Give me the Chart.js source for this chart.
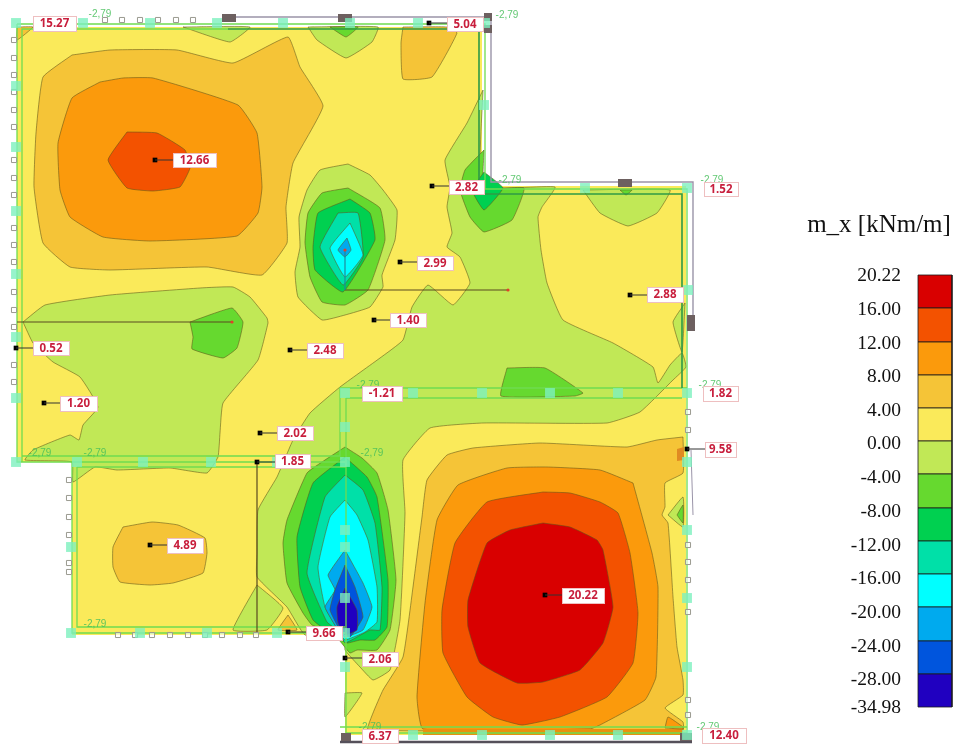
<!DOCTYPE html>
<html>
<head>
<meta charset="utf-8">
<title>m_x</title>
<script src="https://cdn.jsdelivr.net/npm/chart.js@4"></script>
<style>
  html, body { margin: 0; padding: 0; background: #fff; }
  canvas { display: block; filter: blur(0.4px); }
</style>
</head>
<body>
<canvas id="plate" width="957" height="744"></canvas>
<script>
// colour classes, from the scale on the right (top to bottom)
const scaleTicks = ['20.22','16.00','12.00','8.00','4.00','0.00','-4.00','-8.00','-12.00','-16.00','-20.00','-24.00','-28.00','-34.98'];
const scaleColors = ['#d90000','#f35200','#fb9a0c','#f5c437','#faea5a','#c1e856','#66d92f','#00d050','#00e0a8','#00ffff','#00aaee','#0055dd','#2000c0'];
const scaleEdges = [275,308,342,375,408,441,474,508,541,574,607,641,674,707];
const scaleLabelY = [276,310,344,377,411,444,478,512,546,579,613,647,680,708];

// contour outlines, in plot units
const slab = [[17,27],[482,27],[482,186],[686,186],[686,735],[345,735],[345,635],[72,635],[72,462],[17,462]];

const centerBand = [[483,90],[482,186],[555,187],[542,207],[538,217],[541,250],[547,283],[563,320],[613,343],[653,367],[658,383],[670,365],[682,353],[686,367],[673,380],[640,412],[607,423],[483,423],[430,428],[403,460],[405,513],[400,620],[390,670],[373,680],[360,667],[345,650],[345,635],[305,635],[287,607],[257,577],[257,553],[258,510],[277,477],[293,440],[310,413],[340,387],[380,358],[403,340],[412,307],[428,285],[453,305],[470,283],[460,257],[447,247],[452,233],[447,207],[450,187],[445,160],[467,123]];
const leftBand = [[23,322],[45,305],[110,295],[200,288],[233,287],[250,297],[267,318],[268,323],[258,360],[223,403],[220,433],[218,457],[207,473],[170,468],[117,470],[95,467],[73,482],[72,462],[25,460],[33,450],[70,435],[79,440],[83,425],[98,407],[80,377],[53,362],[33,343]];
const leftPatch = [[190,322],[232,308],[243,322],[237,348],[223,358],[192,349],[193,337]];

const upperA = [[348,164],[320,170],[307,190],[299,217],[300,247],[295,272],[298,297],[322,320],[345,315],[370,307],[383,287],[382,275],[395,240],[397,210],[383,190],[370,175]];
const upperB = [[348,188],[322,193],[308,213],[305,243],[310,277],[322,302],[345,305],[368,290],[385,240],[380,208]];
const upperC = [[350,199],[318,213],[313,247],[315,270],[343,292],[375,240],[370,213]];
const upperD = [[338,213],[320,247],[343,285],[363,257],[358,213]];
const upperE = [[350,223],[330,248],[345,277],[363,255]];
const upperF = [[347,238],[338,250],[345,257],[351,250]];

const notchA = [[484,150],[465,170],[460,190],[470,217],[484,232],[512,220],[524,188],[484,188]];
const notchB = [[484,172],[472,190],[484,210],[503,188]];

const topBlob1 = [[183,27],[230,42],[250,27]];
const topBlob2 = [[308,27],[317,40],[346,58],[372,42],[378,27]];
const topBlob2Core = [[330,27],[346,37],[358,27]];
const topWarm = [[403,27],[401,43],[403,79],[432,77],[457,33],[447,27]];

const rightBlob = [[583,190],[600,213],[628,226],[657,213],[670,190]];
const rightBlobCore = [[620,190],[626,195],[632,190]];
const edgePatch = [[685,303],[673,322],[682,352]];
const seamPatch = [[507,368],[545,368],[583,393],[575,396],[501,396]];

const warmA1 = [[72,55],[43,77],[36,133],[34,187],[43,243],[70,267],[110,270],[207,267],[262,275],[287,243],[286,207],[293,163],[323,106],[300,67],[288,37],[233,63],[177,50],[110,50]];
const warmA2 = [[100,82],[72,98],[58,143],[60,190],[70,217],[103,237],[150,241],[237,236],[258,213],[262,187],[257,133],[238,105],[153,78],[123,78]];
const warmA3 = [[127,132],[108,160],[127,188],[153,191],[180,187],[190,168],[185,150],[157,133]];
const cornerWarm = [[17,27],[17,40],[33,27]];

const warmB = [[123,527],[152,522],[178,525],[205,538],[207,553],[203,573],[173,583],[150,585],[120,582],[113,567],[113,547]];
const warmBTip = [[288,615],[278,630],[297,630]];
const coolWedge = [[257,585],[233,630],[267,630],[283,608]];
const coolFoot = [[345,693],[362,693],[345,717]];

const columnA = [[345,447],[325,460],[307,473],[287,520],[283,543],[287,583],[303,613],[312,625],[333,633],[350,653],[357,650],[377,650],[390,630],[396,580],[388,510],[377,473],[362,458]];
const columnB = [[345,457],[313,483],[297,537],[300,587],[313,620],[330,633],[347,643],[360,640],[375,640],[387,627],[388,580],[377,497],[367,477]];
const columnC = [[345,475],[325,497],[307,573],[327,622],[340,632],[345,643],[370,630],[380,630],[382,587],[375,523],[363,490]];
const columnD = [[345,500],[330,517],[318,567],[325,607],[338,630],[345,640],[365,632],[377,622],[377,587],[368,540],[357,515]];
const columnE = [[345,550],[328,575],[335,590],[325,607],[338,630],[345,637],[363,630],[372,607],[363,583]];
const columnF = [[345,565],[335,590],[330,610],[340,630],[350,637],[363,617],[355,587]];
const columnG = [[345,588],[337,607],[338,623],[345,635],[357,630],[357,610]];

const peak1 = [[683,437],[683,473],[665,483],[665,507],[662,515],[668,523],[673,597],[677,647],[683,680],[683,695],[665,708],[683,722],[683,730],[368,730],[373,713],[383,690],[403,657],[413,587],[422,517],[427,480],[447,455],[473,448],[540,443],[627,447],[657,440]];
const peak2 = [[633,483],[652,553],[658,587],[656,677],[645,700],[600,725],[590,729],[423,729],[417,697],[425,603],[437,520],[458,485],[507,468],[547,467],[600,470]];
const peak3 = [[543,492],[487,502],[455,543],[442,610],[443,653],[467,697],[493,717],[522,725],[560,717],[607,697],[633,663],[638,613],[630,553],[618,513],[600,502],[570,493]];
const peak4 = [[543,523],[510,530],[487,543],[468,600],[468,627],[480,663],[517,683],[543,682],[580,670],[603,643],[613,607],[603,550],[597,540],[570,527]];
const baseStrip = [[423,729],[683,729],[683,735],[423,735]];
const cornerStrip = [[665,728],[668,717],[683,727],[683,729]];
const sidePatch = [[668,515],[683,497],[683,527]];
const sidePatchCore = [[677,515],[683,505],[683,523]];
const sideWarm = [[677,449],[684,447],[684,460],[677,461]];

// frame lines
const outerFrame = [[228,17],[491,17],[491,182],[693,182],[693,330]];
const outerFrame2 = [[340,742],[692,742]];
const outerFrame3 = [[691,450],[693,515]];
const darkFrame = [[228,29],[479,29],[479,186]];
const darkFrame2 = [[484,194],[682,194],[682,388]];
const greenLines = [
  [[17,24],[485,24],[485,189],[687,189],[687,735]],
  [[22,462],[22,29],[228,29]],
  [[17,24],[17,462],[345,462]],
  [[22,456],[340,456],[340,388],[687,388]],
  [[77,467],[346,467]],
  [[346,398],[682,398]],
  [[346,398],[346,733]],
  [[72,462],[72,633],[345,633]],
  [[77,467],[77,627],[345,627]],
  [[340,727],[687,727]],
  [[346,733],[687,733]]
];

// line loads drawn on top of the plot
const loadLines = [
  [[345,290],[508,290]],
  [[17,322],[232,322]],
  [[257,462],[257,632]],
  [[345,250],[345,290]]
];
const loadColors = ['#5a4a20','#5a4a20','#5a4a20','#1f8a9c'];
const loadTips = [[508,290],[232,322],[345,250]];

// supports
const supportMarks = [[16,23],[83,23],[150,23],[217,23],[283,23],[350,23],[418,23],[485,23],[16,86],[16,147],[16,211],[16,274],[16,337],[16,398],[16,462],[77,462],[143,462],[211,462],[277,462],[345,462],[345,393],[345,427],[345,530],[345,547],[345,598],[345,633],[345,667],[71,547],[71,633],[140,633],[207,633],[277,633],[413,393],[482,393],[550,393],[618,393],[687,393],[413,735],[482,735],[550,735],[618,735],[687,735],[687,462],[687,530],[687,598],[687,667],[585,188],[687,188],[688,290],[484,105]];
const nodeTicks = [[14,40],[14,58],[14,75],[14,92],[14,110],[14,127],[14,160],[14,178],[14,195],[14,228],[14,245],[14,262],[14,292],[14,310],[14,327],[14,365],[14,382],[105,20],[122,20],[140,20],[158,20],[176,20],[193,20],[69,480],[69,498],[69,517],[69,535],[69,563],[69,572],[118,635],[135,635],[152,635],[170,635],[188,635],[205,635],[222,635],[240,635],[256,635],[688,412],[688,430],[688,545],[688,562],[688,580],[688,612],[688,700],[688,715]];
const columnStubs = [[[222,18],[236,18]],[[338,18],[352,18]],[[618,183],[632,183]],[[691,315],[691,331]],[[484,17],[492,17]],[[484,29],[492,29]],[[341,737],[351,737]],[[680,737],[692,737]]];

// result labels
const resultValues = ['15.27','12.66','5.04','2.82','1.52','2.99','2.88','1.40','2.48','0.52','1.20','2.02','1.85','4.89','9.66','2.06','-1.21','1.82','9.58','20.22','6.37','12.40'];
const resultBoxes = [[33,16,76,31],[173,153,216,167],[447,17,483,31],[449,180,484,194],[704,182,738,196],[417,256,453,270],[647,287,683,302],[390,313,426,327],[307,343,343,358],[33,341,69,355],[60,396,97,411],[277,426,313,440],[275,454,310,468],[167,538,203,553],[306,626,342,640],[362,652,398,666],[362,386,402,401],[703,386,738,401],[705,442,736,457],[562,588,604,603],[362,729,398,743],[702,728,746,743]];
const resultPoints = [null,[155,160],[429,23],[432,186],null,[400,262],[630,295],[374,320],[290,350],[16,348],[44,403],[260,433],[257,462],[150,545],[288,632],[345,658],null,null,[687,449],[545,595],null,null];
const minusNotes = [[100,14],[507,15],[510,180],[712,180],[710,385],[368,385],[372,453],[40,453],[95,453],[95,624],[370,727],[708,727]];

const ink = 'rgba(95,85,25,.7)';

function pts(list) {
  return list.map(p => ({ x: p[0], y: p[1] }));
}

function area(list, color, edge) {
  const closed = list.concat([list[0]]);
  return {
    type: 'scatter', data: pts(closed), showLine: true, fill: 'shape', tension: edge === undefined ? 0.12 : 0,
    backgroundColor: color, borderColor: edge === undefined ? ink : edge,
    borderWidth: edge === null ? 0 : 0.8, pointRadius: 0
  };
}

function line(list, color, width) {
  return { type: 'scatter', data: pts(list), showLine: true, fill: false, tension: 0, borderColor: color, borderWidth: width, pointRadius: 0 };
}

function marks(list, style, size, fillColor, edge, width) {
  return { type: 'scatter', data: pts(list), showLine: false, pointStyle: style, pointRadius: size, backgroundColor: fillColor, borderColor: edge, borderWidth: width };
}

const C = scaleColors;
const layers = [
  area(slab, C[4], null),
  area(centerBand, C[5]), area(leftBand, C[5]), area(leftPatch, C[6]),
  area(upperA, C[5]), area(upperB, C[6]), area(upperC, C[7]), area(upperD, C[8]), area(upperE, C[9]), area(upperF, C[10]),
  area(notchA, C[6]), area(notchB, C[7]),
  area(topBlob1, C[5]), area(topBlob2, C[5]), area(topBlob2Core, C[6]), area(topWarm, C[3]),
  area(rightBlob, C[5]), area(rightBlobCore, C[6]), area(edgePatch, C[5]), area(seamPatch, C[6]),
  area(warmA1, C[3]), area(warmA2, C[2]), area(warmA3, C[1]), area(cornerWarm, C[3]),
  area(warmB, C[3]), area(coolWedge, C[5]), area(warmBTip, C[3]), area(coolFoot, C[5]),
  area(columnA, C[6]), area(columnB, C[7]), area(columnC, C[8]), area(columnD, C[9]), area(columnE, C[10]), area(columnF, C[11]), area(columnG, C[12]),
  area(peak1, C[3]), area(peak2, C[2]), area(peak3, C[1]), area(peak4, C[0]),
  area(baseStrip, '#e8920e', null), area(cornerStrip, C[2]), area(sidePatch, C[5]), area(sidePatchCore, C[6]), area(sideWarm, '#e08a22', null)
];

// scale swatches
scaleColors.forEach((c, i) => {
  const top = scaleEdges[i], bottom = scaleEdges[i + 1];
  layers.push(area([[918, top], [952, top], [952, bottom], [918, bottom]], c, '#1a1a1a'));
});

layers.push(line(outerFrame, '#9a94a8', 1.4), line(outerFrame2, '#55505a', 2.5), line(outerFrame3, '#9a94a8', 1));
greenLines.forEach(l => layers.push(line(l, '#6fdc50', 1.3)));
layers.push(line(darkFrame, '#2f9a46', 1.6), line(darkFrame2, '#2f9a46', 1.6));
layers.push(marks(nodeTicks, 'rect', 3.6, 'rgba(255,255,255,.6)', '#9a9a90', 1));
columnStubs.forEach(l => layers.push(line(l, '#6d6060', 8)));
loadLines.forEach((l, i) => layers.push(line(l, loadColors[i], 1.2)));
layers.push(marks(loadTips, 'circle', 1.6, '#e0402a', '#e0402a', 0));
layers.push(marks(supportMarks, 'rect', 7, 'rgba(125,240,190,.8)', 'rgba(125,240,190,0)', 0));
layers.push(marks(resultPoints.filter(p => p), 'rect', 3.3, '#000', '#000', 0));

const textLayer = {
  id: 'textLayer',
  afterDatasetsDraw(chart) {
    const { ctx, scales } = chart;
    const X = v => scales.x.getPixelForValue(v);
    const Y = v => scales.y.getPixelForValue(v);
    ctx.save();

    ctx.font = '10px "Liberation Sans"';
    ctx.fillStyle = 'rgba(70,190,90,.85)';
    ctx.textAlign = 'center';
    ctx.textBaseline = 'middle';
    minusNotes.forEach(p => ctx.fillText('-2,79', X(p[0]), Y(p[1])));

    resultValues.forEach((v, i) => {
      const b = resultBoxes[i], p = resultPoints[i];
      if (p) {
        ctx.strokeStyle = '#333';
        ctx.lineWidth = 1;
        ctx.beginPath();
        ctx.moveTo(X(p[0]), Y(p[1]));
        ctx.lineTo(X(b[0]), Y(p[1]));
        ctx.stroke();
      }
      ctx.fillStyle = '#fff';
      ctx.strokeStyle = '#eebfc0';
      ctx.fillRect(X(b[0]), Y(b[1]), X(b[2]) - X(b[0]), Y(b[3]) - Y(b[1]));
      ctx.strokeRect(X(b[0]) + .5, Y(b[1]) + .5, X(b[2]) - X(b[0]), Y(b[3]) - Y(b[1]));
      ctx.fillStyle = '#c81e3c';
      ctx.font = 'bold 11.5px "Noto Sans"';
      ctx.fillText(v, X((b[0] + b[2]) / 2), Y((b[1] + b[3]) / 2) + .5);
    });

    ctx.fillStyle = '#111';
    ctx.font = '25px "Liberation Serif"';
    ctx.fillText('m_x [kNm/m]', X(879), Y(225));
    ctx.font = '19.5px "Liberation Serif"';
    ctx.textAlign = 'right';
    scaleTicks.forEach((t, i) => ctx.fillText(t, X(901), Y(scaleLabelY[i])));
    ctx.restore();
  }
};

new Chart(document.getElementById('plate'), {
  type: 'scatter',
  data: { datasets: layers.slice().reverse() },
  plugins: [textLayer],
  options: {
    responsive: false,
    animation: false,
    events: [],
    layout: { padding: 0, autoPadding: false },
    plugins: { legend: { display: false }, tooltip: { enabled: false }, title: { display: false } },
    scales: {
      x: { type: 'linear', min: 0, max: 957, display: false },
      y: { type: 'linear', min: 0, max: 744, reverse: true, display: false }
    }
  }
});
</script>
</body>
</html>
